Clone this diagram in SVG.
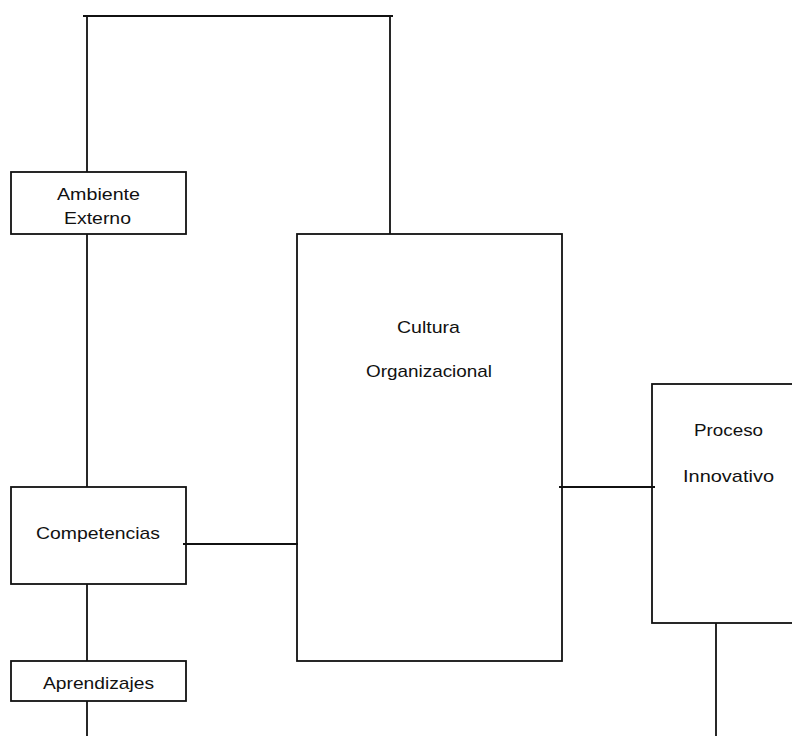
<svg xmlns="http://www.w3.org/2000/svg" width="792" height="736" viewBox="0 0 792 736">
<style>
.box{fill:none;stroke:#111;stroke-width:1.8}
.ln{fill:none;stroke:#111;stroke-width:1.8}
text{font-family:"Liberation Sans",Arial,sans-serif;font-size:17px;fill:#111;text-anchor:middle}
</style>
<rect width="792" height="736" fill="#fff"/>
<g id="connectors">
<polyline class="ln" points="87,172 87,16 390,16 390,234"/>
<line class="ln" x1="83" y1="16" x2="393" y2="16"/>
<line class="ln" x1="87" y1="234" x2="87" y2="487"/>
<line class="ln" x1="183" y1="544" x2="298" y2="544"/>
<line class="ln" x1="87" y1="584" x2="87" y2="661"/>
<line class="ln" x1="87" y1="701" x2="87" y2="736"/>
<line class="ln" x1="559" y1="487" x2="655" y2="487"/>
<line class="ln" x1="716" y1="623" x2="716" y2="736"/>
</g>
<g id="ambiente">
<rect class="box" x="11" y="172" width="175" height="62"/>
<text x="98.5" y="200" textLength="83" lengthAdjust="spacingAndGlyphs">Ambiente</text>
<text x="97.5" y="224" textLength="67" lengthAdjust="spacingAndGlyphs">Externo</text>
</g>
<g id="competencias">
<rect class="box" x="11" y="487" width="175" height="97"/>
<text x="98" y="539" textLength="124" lengthAdjust="spacingAndGlyphs">Competencias</text>
</g>
<g id="aprendizajes">
<rect class="box" x="11" y="661" width="175" height="40"/>
<text x="98.5" y="689" textLength="111" lengthAdjust="spacingAndGlyphs">Aprendizajes</text>
</g>
<g id="cultura">
<rect class="box" x="297" y="234" width="265" height="427"/>
<text x="428.5" y="333" textLength="63" lengthAdjust="spacingAndGlyphs">Cultura</text>
<text x="429" y="377" textLength="126" lengthAdjust="spacingAndGlyphs">Organizacional</text>
</g>
<g id="proceso">
<rect class="box" x="652" y="384" width="160" height="239"/>
<text x="728.5" y="436" textLength="69" lengthAdjust="spacingAndGlyphs">Proceso</text>
<text x="728.5" y="482" textLength="91" lengthAdjust="spacingAndGlyphs">Innovativo</text>
</g>
</svg>
